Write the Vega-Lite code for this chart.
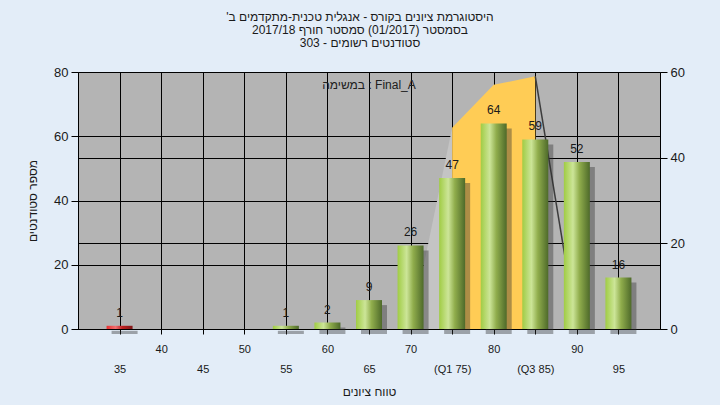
{
  "$schema": "https://vega.github.io/schema/vega-lite/v6.json",
  "width": 582,
  "height": 257,
  "autosize": {"type": "none"},
  "padding": {"left": 78, "top": 72, "right": 60, "bottom": 76},
  "background": "#e3edf8",
  "config": {
    "view": {"fill": "#b4b4b4", "stroke": null},
    "font": "Liberation Sans",
    "axis": {
      "gridColor": "#000000",
      "gridOpacity": 1,
      "gridWidth": 1,
      "domainColor": "#000000",
      "tickColor": "#000000",
      "labelColor": "#1a1a1a",
      "titleColor": "#1a1a1a",
      "titleFontWeight": "normal",
      "labelFont": "Liberation Sans",
      "titleFont": "Liberation Sans"
    }
  },
  "title": {
    "text": [
      "\u202bהיסטוגרמת ציונים בקורס - אנגלית טכנית-מתקדמים ב'\u202c",
      "\u202bבסמסטר  (01/2017)  סמסטר חורף 2017/18\u202c",
      "\u202bסטודנטים רשומים - 303\u202c"
    ],
    "fontSize": 12,
    "fontWeight": "normal",
    "lineHeight": 13,
    "color": "#1a1a1a",
    "anchor": "middle",
    "dx": -9,
    "offset": 16
  },
  "datasets": {
    "bars": [
      {"grade": 35, "count": 1},
      {"grade": 40, "count": 0},
      {"grade": 45, "count": 0},
      {"grade": 50, "count": 0},
      {"grade": 55, "count": 1},
      {"grade": 60, "count": 2},
      {"grade": 65, "count": 9},
      {"grade": 70, "count": 26},
      {"grade": 75, "count": 47},
      {"grade": 80, "count": 64},
      {"grade": 85, "count": 59},
      {"grade": 90, "count": 52},
      {"grade": 95, "count": 16}
    ],
    "curve": [
      {"grade": 70, "v": 0, "seg": "L"},
      {"grade": 75, "v": 47, "seg": "L"},
      {"grade": 75, "v": 47, "seg": "M"},
      {"grade": 80, "v": 57, "seg": "M"},
      {"grade": 85, "v": 59, "seg": "M"},
      {"grade": 85, "v": 59, "seg": "R"},
      {"grade": 90, "v": 0, "seg": "R"}
    ]
  },
  "layer": [
    {
      "data": {"name": "curve"},
      "encoding": {
        "x": {
          "field": "grade",
          "type": "quantitative",
          "scale": {"domain": [30, 100], "nice": false, "zero": false, "padding": 0},
          "axis": {
            "orient": "bottom",
            "values": [35, 45, 55, 65, 75, 85, 95],
            "labelExpr": "datum.value == 75 ? '(Q1 75)' : datum.value == 85 ? '(Q3 85)' : datum.label",
            "domain": false,
            "ticks": false,
            "grid": false,
            "tickSize": 5,
            "labelPadding": 34,
            "labelFontSize": 11,
            "labelFlush": false,
            "labelOverlap": false,
            "title": "טווח ציונים",
            "titleFontSize": 12,
            "titlePadding": 12
          }
        },
        "y": {
          "field": "v",
          "type": "quantitative",
          "scale": {"domain": [0, 60], "nice": false},
          "axis": {
            "orient": "right",
            "values": [0, 20, 40, 60],
            "grid": true,
            "tickSize": 7,
            "labelPadding": 3,
            "labelFontSize": 13,
            "title": null
          }
        }
      },
      "layer": [
        {
          "transform": [{"filter": "datum.seg == 'L'"}],
          "mark": {"type": "area", "color": "#c4c4c4", "opacity": 1}
        },
        {
          "transform": [{"filter": "datum.seg == 'M'"}],
          "mark": {"type": "area", "color": "#ffcc55", "opacity": 1}
        },
        {
          "transform": [{"filter": "datum.seg == 'R'"}],
          "mark": {"type": "line", "color": "#3c3c3c", "strokeWidth": 1.5}
        }
      ]
    },
    {
      "data": {"name": "bars"},
      "encoding": {
        "x": {
          "field": "grade",
          "type": "quantitative",
          "scale": {"domain": [30, 100], "nice": false, "zero": false, "padding": 0},
          "axis": {
            "orient": "bottom",
            "values": [35, 40, 45, 50, 55, 60, 65, 70, 75, 80, 85, 90, 95],
            "labelExpr": "datum.value % 10 == 0 ? datum.label : ''",
            "grid": true,
            "tickSize": 5,
            "labelPadding": 9,
            "labelFontSize": 11,
            "labelFlush": false,
            "labelOverlap": false,
            "title": null
          }
        },
        "y": {
          "field": "count",
          "type": "quantitative",
          "scale": {"domain": [0, 80], "nice": false},
          "axis": {
            "orient": "left",
            "values": [0, 20, 40, 60, 80],
            "grid": true,
            "tickSize": 7,
            "labelPadding": 3,
            "labelFontSize": 13,
            "title": "מספר סטודנטים",
            "titleFontSize": 12,
            "titlePadding": 14
          }
        }
      },
      "layer": [
        {
          "transform": [{"filter": "datum.count > 0"}],
          "mark": {"type": "bar", "size": 26, "color": "#303030", "opacity": 0.4, "xOffset": 5, "yOffset": 5, "y2Offset": 5}
        },
        {
          "transform": [{"filter": "datum.count > 0"}],
          "mark": {"type": "bar", "size": 26},
          "encoding": {
            "color": {
              "condition": {
                "test": "datum.grade == 35",
                "value": {"gradient": "linear", "x1": 0, "y1": 0, "x2": 1, "y2": 0, "stops": [
                  {"offset": 0, "color": "#e83030"},
                  {"offset": 0.35, "color": "#f07070"},
                  {"offset": 0.6, "color": "#c02020"},
                  {"offset": 1, "color": "#801818"}
                ]}
              },
              "value": {"gradient": "linear", "x1": 0, "y1": 0, "x2": 1, "y2": 0, "stops": [
                {"offset": 0, "color": "#a0cc44"},
                {"offset": 0.35, "color": "#cce598"},
                {"offset": 0.6, "color": "#90ad4c"},
                {"offset": 1, "color": "#4e6a2a"}
              ]}
            }
          }
        },
        {
          "transform": [{"filter": "datum.count > 0"}],
          "mark": {"type": "text", "baseline": "middle", "dy": -13, "fontSize": 12, "color": "#1a1a1a", "font": "Liberation Sans"},
          "encoding": {"text": {"field": "count", "type": "quantitative"}}
        },
        {
          "transform": [{"filter": "datum.grade == 65"}],
          "mark": {"type": "text", "baseline": "middle", "align": "center", "fontSize": 12, "color": "#202020", "font": "Liberation Sans", "text": "במשימה : Final_A"},
          "encoding": {
            "y": {"datum": 76, "type": "quantitative"}
          }
        }
      ]
    }
  ],
  "resolve": {"scale": {"y": "independent"}, "axis": {"x": "independent", "y": "independent"}}
}
